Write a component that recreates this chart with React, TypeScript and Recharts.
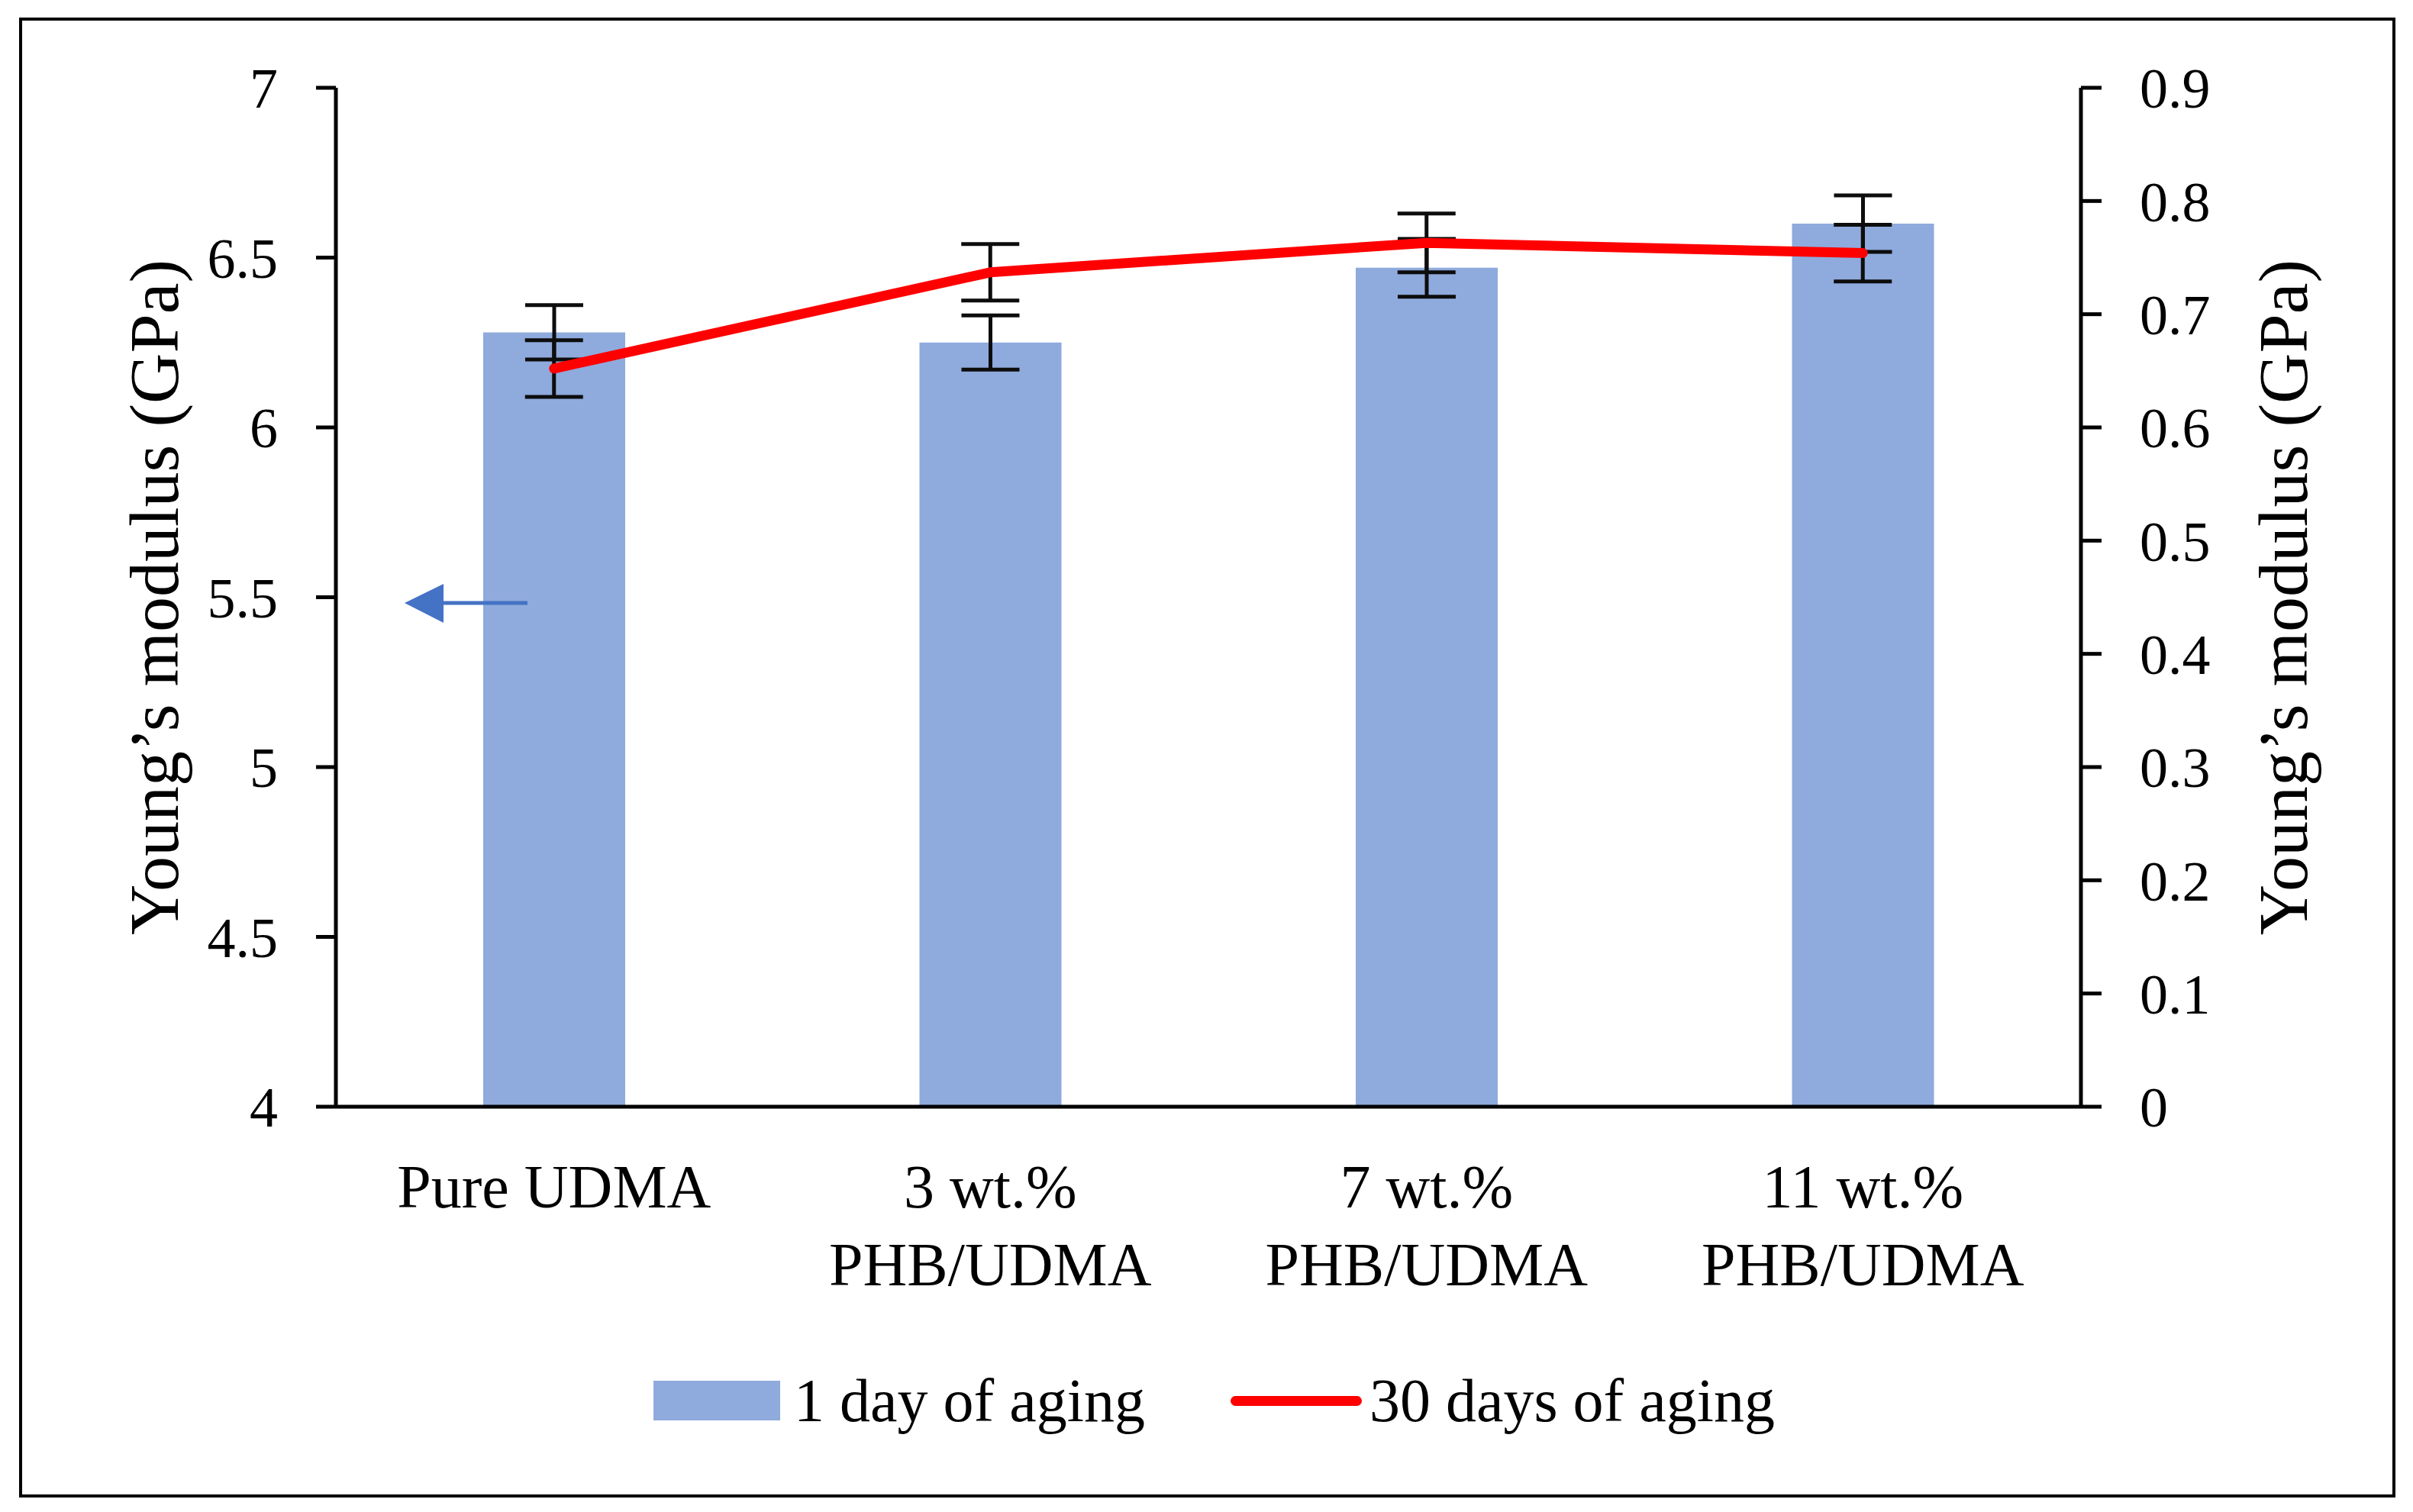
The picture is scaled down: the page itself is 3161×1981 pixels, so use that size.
import React from 'react';
import { ComposedChart, Bar, Line, XAxis, YAxis, ErrorBar, Legend } from 'recharts';

const categories = ['Pure UDMA', '3 wt.%\nPHB/UDMA', '7 wt.%\nPHB/UDMA', '11 wt.%\nPHB/UDMA'];
const day1 = [6.28, 6.25, 6.47, 6.6];
const day1Err = [0.08, 0.08, 0.085, 0.083];
const day30 = [0.652, 0.737, 0.763, 0.754];
const day30Err = [0.025, 0.025, 0.026, 0.025];
const leftTicks = [4, 4.5, 5, 5.5, 6, 6.5, 7];
const rightTicks = [0, 0.1, 0.2, 0.3, 0.4, 0.5, 0.6, 0.7, 0.8, 0.9];
const seriesNames = ['1 day of aging', '30 days of aging'];
const axisTitle = 'Young\u2019s modulus (GPa)';

const data = categories.map((name, i) => ({
  name,
  day1: day1[i],
  day1Err: day1Err[i],
  day30: day30[i],
  day30Err: day30Err[i],
}));

const FONT = '"Liberation Serif", "Times New Roman", serif';
const BAR_COLOR = '#8FAADC';
const LINE_COLOR = '#FF0000';

const CatTick = (props: any) => {
  const { x, y, payload } = props;
  const lines = String(payload.value).split('\n');
  return (
    <text x={x} y={y} textAnchor="middle" fontFamily={FONT} fontSize={80} fill="#000">
      {lines.map((l, i) => (
        <tspan key={i} x={x} dy={i === 0 ? 124 : 102}>
          {l}
        </tspan>
      ))}
    </text>
  );
};

const renderLegend = () => (
  <div
    style={{
      height: 130,
      display: 'flex',
      alignItems: 'center',
      justifyContent: 'center',
      fontFamily: FONT,
      fontSize: 80,
      color: '#000',
      lineHeight: 1,
      paddingLeft: 20,
    }}
  >
    <div style={{ width: 166, height: 52, background: BAR_COLOR, marginRight: 18 }} />
    <span>{seriesNames[0]}</span>
    <div
      style={{
        width: 172,
        height: 13,
        background: LINE_COLOR,
        borderRadius: 7,
        marginLeft: 112,
        marginRight: 10,
      }}
    />
    <span>{seriesNames[1]}</span>
  </div>
);

export default function App() {
  return (
    <div style={{ position: 'relative', width: 3161, height: 1981 }}>
      <style>{'body{margin:0;background:#fff;}'}</style>
      <ComposedChart
        width={3161}
        height={1981}
        data={data}
        margin={{ top: 115, right: 0, left: 0, bottom: 81 }}
      >
        <XAxis
          dataKey="name"
          xAxisId={0}
          height={320}
          interval={0}
          tickLine={false}
          axisLine={{ stroke: '#000', strokeWidth: 5 }}
          tick={<CatTick />}
        />
        <YAxis
          yAxisId="left"
          domain={[4, 7]}
          ticks={leftTicks}
          width={440}
          tickSize={26}
          tickMargin={50}
          axisLine={{ stroke: '#000', strokeWidth: 5 }}
          tickLine={{ stroke: '#000', strokeWidth: 5 }}
          tick={{ fontSize: 74, fill: '#000', fontFamily: FONT }}
          label={{
            value: axisTitle,
            angle: -90,
            position: 'center',
            dx: -20,
            style: { fontSize: 92, fill: '#000', fontFamily: FONT, textAnchor: 'middle' },
          }}
        />
        <YAxis
          yAxisId="right"
          orientation="right"
          domain={[0, 0.9]}
          ticks={rightTicks}
          width={435}
          tickSize={27}
          tickMargin={50}
          axisLine={{ stroke: '#000', strokeWidth: 5 }}
          tickLine={{ stroke: '#000', strokeWidth: 5 }}
          tick={{ fontSize: 74, fill: '#000', fontFamily: FONT }}
          label={{
            value: axisTitle,
            angle: -90,
            position: 'center',
            dx: 46,
            style: { fontSize: 92, fill: '#000', fontFamily: FONT, textAnchor: 'middle' },
          }}
        />
        <Legend verticalAlign="bottom" height={130} content={renderLegend} />
        <Bar
          yAxisId="left"
          dataKey="day1"
          name={seriesNames[0]}
          fill={BAR_COLOR}
          barSize={186}
          isAnimationActive={false}
        >
          <ErrorBar dataKey="day1Err" width={38} stroke="#0d0d0d" strokeWidth={5} direction="y" />
        </Bar>
        <Line
          yAxisId="right"
          dataKey="day30"
          legendType="none"
          stroke="none"
          strokeWidth={0}
          dot={false}
          activeDot={false}
          isAnimationActive={false}
        >
          <ErrorBar dataKey="day30Err" width={38} stroke="#0d0d0d" strokeWidth={5} direction="y" />
        </Line>
        <Line
          yAxisId="right"
          dataKey="day30"
          name={seriesNames[1]}
          stroke={LINE_COLOR}
          strokeWidth={13}
          strokeLinecap="round"
          strokeLinejoin="round"
          dot={false}
          activeDot={false}
          isAnimationActive={false}
        />
      </ComposedChart>
      <svg
        width={3161}
        height={1981}
        style={{ position: 'absolute', left: 0, top: 0, pointerEvents: 'none' }}
      >
        <rect x={27} y={25} width={3109} height={1935} fill="none" stroke="#000" strokeWidth={4} />
        <line x1={578} y1={790} x2={691} y2={790} stroke="#4472C4" strokeWidth={5} />
        <polygon points="530,790 581,765 581,816" fill="#4472C4" />
      </svg>
    </div>
  );
}
